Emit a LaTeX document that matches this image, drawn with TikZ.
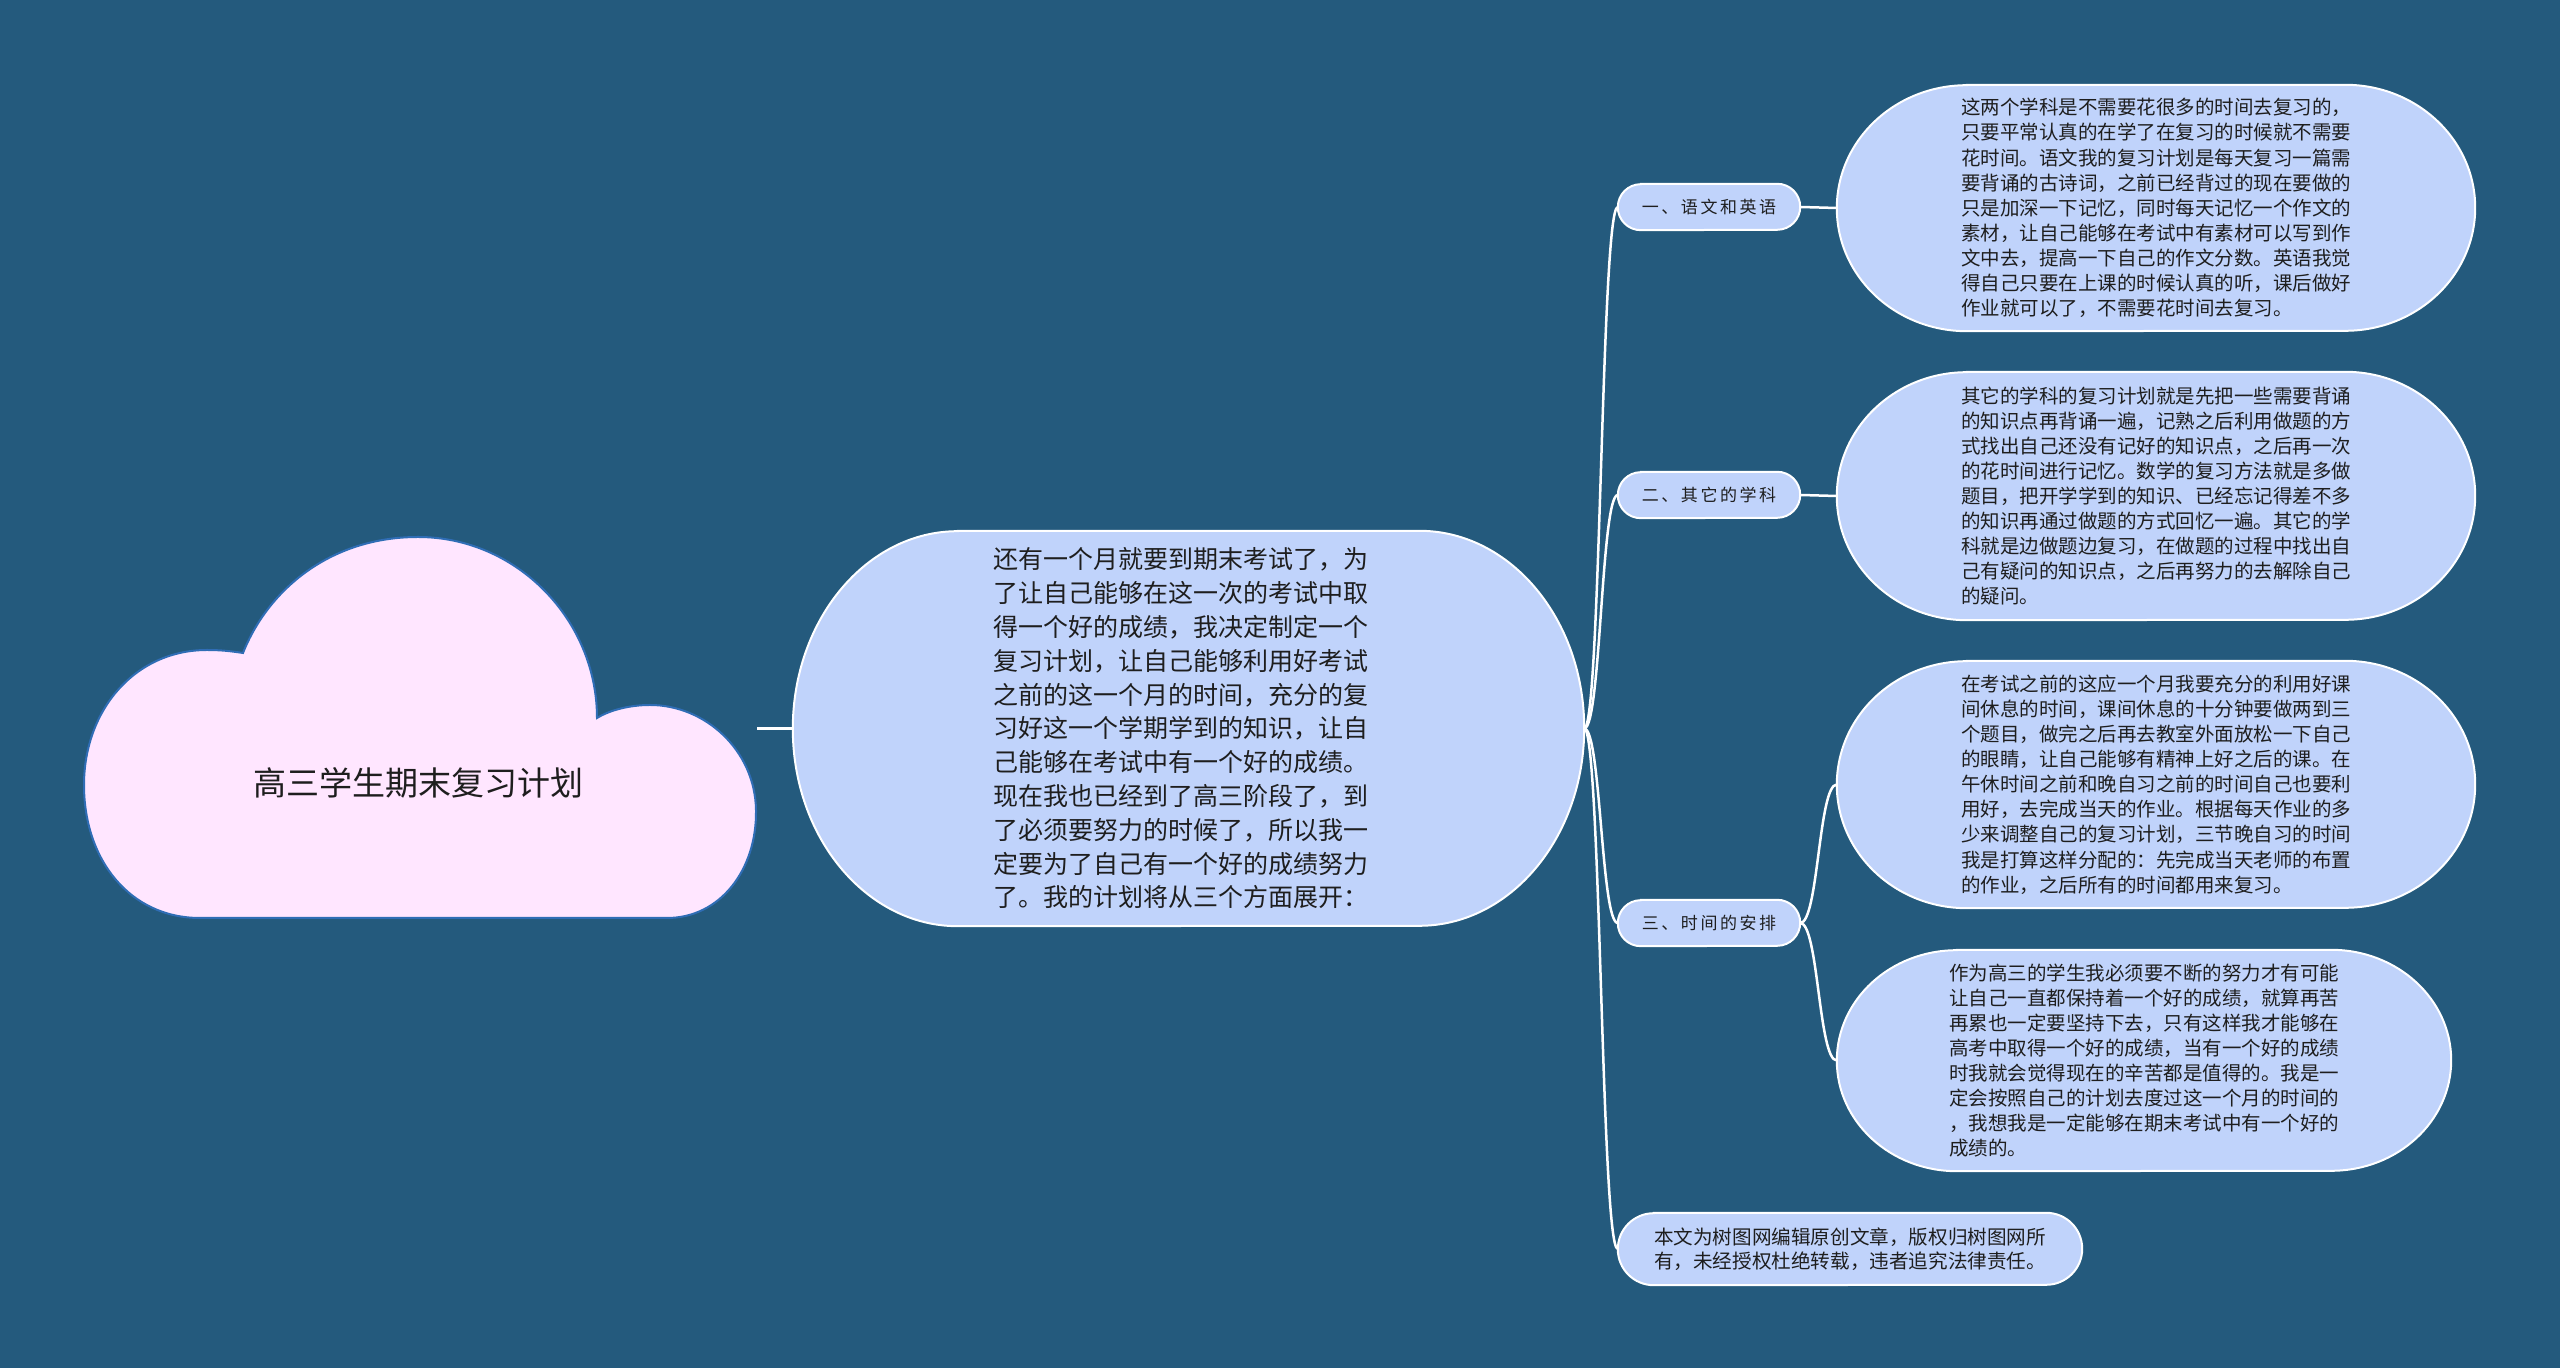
\documentclass[tikz,border=0pt]{standalone}
\usepackage{fontspec}
\newfontfamily\cjk{Noto Sans CJK SC}
\newfontfamily\cjkw[LetterSpace=15]{Noto Sans CJK SC}
\usetikzlibrary{backgrounds,calc}
\definecolor{bgc}{HTML}{245A7D}
\definecolor{nodefill}{HTML}{C0D3FB}
\definecolor{cloudfill}{HTML}{FFE6FF}
\definecolor{cloudline}{HTML}{2F6DB5}
\definecolor{txt}{HTML}{1E1E1E}
\tikzset{
  box/.style={rectangle, draw=none, inner sep=0pt, align=left, text=txt},
  centerbox/.style={box, font=\cjk\fontsize{25}{33.8}\selectfont},
  leafbox/.style={box, font=\cjk\fontsize{19.5}{25.1}\selectfont},
  footbox/.style={box, font=\cjk\fontsize{19.6}{24}\selectfont},
  pillbox/.style={box, align=center, font=\cjkw\fontsize{17}{20}\selectfont},
  rootbox/.style={box, font=\cjk\fontsize{33}{40}\selectfont},
  shapesty/.style={fill=nodefill, draw=white, line width=2pt},
  cloudsty/.style={fill=cloudfill, draw=cloudline, line width=2pt},
  connline/.style={draw=white, line width=2.5pt},
}
% #1 node, #2 horizontal corner radius, #3 half height
\newcommand\pillbg[3]{%
  \path[shapesty] let \p1=(#1.north west), \p2=(#1.south east) in
  ({\x1+#2pt},\y1) -- ({\x2-#2pt},\y1)
  arc[start angle=90, end angle=-90, x radius=#2pt, y radius=#3pt]
  -- ({\x1+#2pt},\y2)
  arc[start angle=270, end angle=90, x radius=#2pt, y radius=#3pt] -- cycle;}
\newcommand\conn[2]{%
  \draw[connline] let \p1=(#1), \p2=(#2) in
  (\p1) .. controls ({(\x1+\x2)/2},\y1) and ({(\x1+\x2)/2},\y2) .. (\p2);}
\begin{document}
\begin{tikzpicture}[x=1pt,y=1pt]
\begin{pgfonlayer}{background}
  \fill[bgc] (0,0) rectangle (2560,1368);
\end{pgfonlayer}
\useasboundingbox (0,0) rectangle (2560,1368);

% root (cloud)
\node[rootbox] (root) at (418,585) {高三学生期末复习计划};
\coordinate (rootR) at (757,639.5);

% central node
\node[centerbox, text width=391pt, minimum width=791pt, minimum height=395pt] (center) at (1188.5,639.5) {%
还有一个月就要到期末考试了，为\\
了让自己能够在这一次的考试中取\\
得一个好的成绩，我决定制定一个\\
复习计划，让自己能够利用好考试\\
之前的这一个月的时间，充分的复\\
习好这一个学期学到的知识，让自\\
己能够在考试中有一个好的成绩。\\
现在我也已经到了高三阶段了，到\\
了必须要努力的时候了，所以我一\\
定要为了自己有一个好的成绩努力\\
了。我的计划将从三个方面展开：};

% level 2
\node[pillbox, minimum width=182pt, minimum height=46pt] (p1) at (1709,1161) {一、语文和英语};
\node[pillbox, minimum width=182pt, minimum height=46pt] (p2) at (1709,873) {二、其它的学科};
\node[pillbox, minimum width=182pt, minimum height=46pt] (p3) at (1709,445) {三、时间的安排};
\node[footbox, minimum width=464pt, minimum height=72pt] (foot) at (1850,119) {%
本文为树图网编辑原创文章，版权归树图网所\\
有，未经授权杜绝转载，违者追究法律责任。};

% leaves
\node[leafbox, minimum width=638pt, minimum height=246pt] (l1) at (2156,1160) {%
这两个学科是不需要花很多的时间去复习的，\\
只要平常认真的在学了在复习的时候就不需要\\
花时间。语文我的复习计划是每天复习一篇需\\
要背诵的古诗词，之前已经背过的现在要做的\\
只是加深一下记忆，同时每天记忆一个作文的\\
素材，让自己能够在考试中有素材可以写到作\\
文中去，提高一下自己的作文分数。英语我觉\\
得自己只要在上课的时候认真的听，课后做好\\
作业就可以了，不需要花时间去复习。};
\node[leafbox, minimum width=638pt, minimum height=248pt] (l2) at (2156,872) {%
其它的学科的复习计划就是先把一些需要背诵\\
的知识点再背诵一遍，记熟之后利用做题的方\\
式找出自己还没有记好的知识点，之后再一次\\
的花时间进行记忆。数学的复习方法就是多做\\
题目，把开学学到的知识、已经忘记得差不多\\
的知识再通过做题的方式回忆一遍。其它的学\\
科就是边做题边复习，在做题的过程中找出自\\
己有疑问的知识点，之后再努力的去解除自己\\
的疑问。};
\node[leafbox, minimum width=638pt, minimum height=247pt] (l3) at (2156,583.5) {%
在考试之前的这应一个月我要充分的利用好课\\
间休息的时间，课间休息的十分钟要做两到三\\
个题目，做完之后再去教室外面放松一下自己\\
的眼睛，让自己能够有精神上好之后的课。在\\
午休时间之前和晚自习之前的时间自己也要利\\
用好，去完成当天的作业。根据每天作业的多\\
少来调整自己的复习计划，三节晚自习的时间\\
我是打算这样分配的：先完成当天老师的布置\\
的作业，之后所有的时间都用来复习。};
\node[leafbox, minimum width=614pt, minimum height=221pt] (l4) at (2144,307.5) {%
作为高三的学生我必须要不断的努力才有可能\\
让自己一直都保持着一个好的成绩，就算再苦\\
再累也一定要坚持下去，只有这样我才能够在\\
高考中取得一个好的成绩，当有一个好的成绩\\
时我就会觉得现在的辛苦都是值得的。我是一\\
定会按照自己的计划去度过这一个月的时间的\\
，我想我是一定能够在期末考试中有一个好的\\
成绩的。};

% shapes behind the nodes
\begin{pgfonlayer}{background}
  \path[cloudsty] (200,450) -- (667,450)
    .. controls (720,450) and (757,498) .. (756,558)
    .. controls (755,618) and (705,663) .. (650,663)
    .. controls (630,663) and (610,658) .. (597,650)
    .. controls (597,748) and (517,831) .. (418,831)
    .. controls (330,831) and (268,778) .. (243,715)
    .. controls (230,717) and (220,718) .. (207,718)
    .. controls (135,718) and (84,658) .. (84,583)
    .. controls (84,508) and (130,450) .. (200,450) -- cycle;
  \pillbg{center}{165}{197.5}
  \pillbg{p1}{23}{23}
  \pillbg{p2}{23}{23}
  \pillbg{p3}{23}{23}
  \pillbg{foot}{36}{36}
  \pillbg{l1}{130}{123}
  \pillbg{l2}{130}{124}
  \pillbg{l3}{130}{123.5}
  \pillbg{l4}{120}{110.5}
\end{pgfonlayer}

% connectors
\draw[connline] (rootR) -- (center.west);
\conn{center.east}{p1.west}
\conn{center.east}{p2.west}
\conn{center.east}{p3.west}
\conn{center.east}{foot.west}
\conn{p1.east}{l1.west}
\conn{p2.east}{l2.west}
\conn{p3.east}{l3.west}
\conn{p3.east}{l4.west}
\end{tikzpicture}
\end{document}
